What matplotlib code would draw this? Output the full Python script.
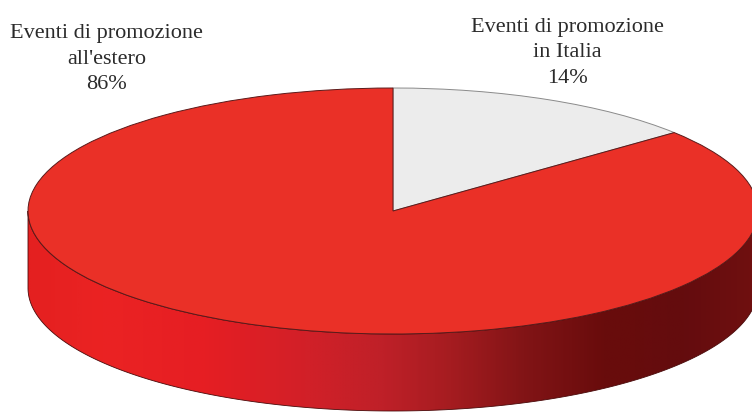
import numpy as np
import matplotlib.pyplot as plt
from matplotlib.patches import Polygon
from matplotlib.colors import LinearSegmentedColormap

# data
labels = ["Eventi di promozione\nin Italia", "Eventi di promozione\nall'estero"]
values = [14, 86]
colors = ["#ececec", "#ea3027"]

plt.rcParams["font.family"] = ["Liberation Serif", "DejaVu Serif"]

fig = plt.figure(figsize=(7.52, 4.17), dpi=100)
ax = fig.add_axes([0, 0, 1, 1])

# top face of the 3D pie (unit circle, squashed by the axis limits)
wedges, _ = ax.pie(values, colors=colors, startangle=90, counterclock=False,
                   wedgeprops=dict(edgecolor="#5a1a1a", linewidth=0.7, zorder=3))
wedges[0].set_edgecolor("#8a8a8a")

# side wall (front half) with a horizontal shading gradient
depth = 0.626
t = np.linspace(np.pi, 2 * np.pi, 300)
top_arc = np.column_stack([np.cos(t), np.sin(t)])
bot_arc = np.column_stack([np.cos(t[::-1]), np.sin(t[::-1]) - depth])
side = Polygon(np.vstack([top_arc, bot_arc]), closed=True, facecolor="none",
               edgecolor="#4a0a0a", linewidth=0.6, zorder=2)
ax.add_patch(side)

stops = [(0.00, (228, 32, 32)), (0.10, (235, 35, 35)), (0.24, (230, 30, 35)),
         (0.38, (210, 32, 40)), (0.49, (190, 32, 40)), (0.58, (165, 28, 32)),
         (0.68, (130, 20, 22)), (0.79, (105, 12, 12)), (0.90, (100, 12, 14)),
         (1.00, (112, 16, 16))]
cmap = LinearSegmentedColormap.from_list(
    "side", [(p, tuple(c / 255 for c in rgb)) for p, rgb in stops])
grad = np.linspace(0, 1, 600).reshape(1, -1)
im = ax.imshow(grad, cmap=cmap, aspect="auto",
               extent=(-1.0, 1.0, -1 - depth - 0.05, 0.05),
               zorder=1, interpolation="bilinear")
im.set_clip_path(side)

# labels
label_pos = [(0.477, 1.285), (-0.784, 1.235)]
for lab, v, (x, y) in zip(labels, values, label_pos):
    ax.text(x, y, f"{lab}\n{v}%", ha="center", va="center", fontsize=16,
            color="#2b2b2b", linespacing=1.48, zorder=4)

ax.set_aspect("auto")
ax.set_xlim(-393 / 365, (752 - 393) / 365)
ax.set_ylim(-(417 - 211) / 123, 211 / 123)
ax.axis("off")

fig.savefig("out.png", dpi=100)
